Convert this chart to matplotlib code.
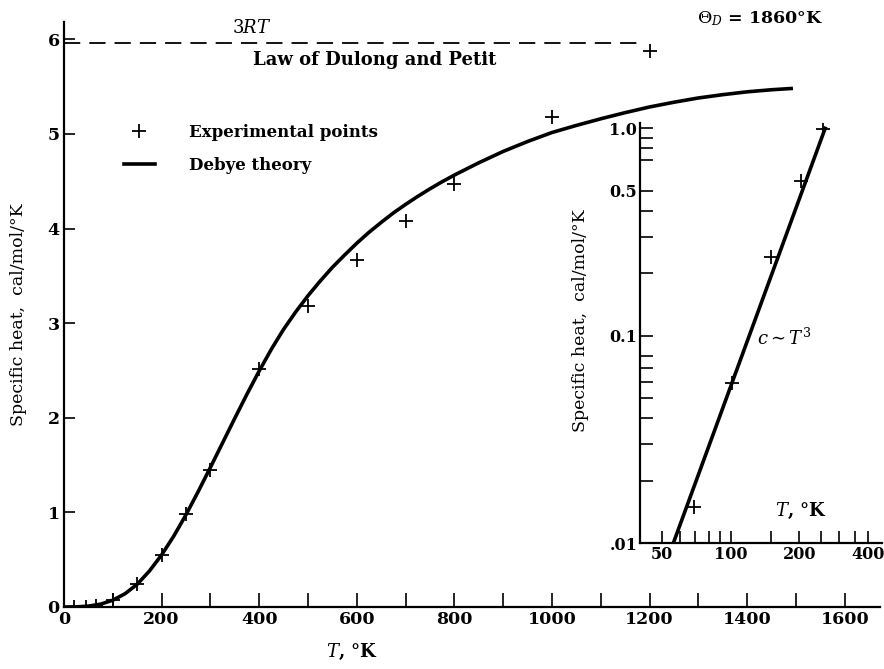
import numpy as np
import matplotlib
matplotlib.use("Agg")
import matplotlib.pyplot as plt
from matplotlib.ticker import FixedLocator, NullFormatter

plt.rcParams['font.family'] = ['DejaVu Serif']
plt.rcParams['mathtext.fontset'] = 'dejavuserif'

# experimental points (T in K, c in cal/mol/K)
exp_T = [20, 45, 65, 100, 150, 200, 250, 300, 400, 500, 600, 700, 800, 1000, 1200]
exp_c = [0.0, 0.0, 0.01, 0.07, 0.24, 0.55, 0.98, 1.45, 2.52, 3.18, 3.67, 4.08, 4.47, 5.18, 5.88]

# Debye curve
debye_T = [0, 25, 50, 75, 100, 125, 150, 175, 200, 225, 250, 275, 300, 325, 350, 375,
           400, 425, 450, 475, 500, 525, 550, 575, 600, 625, 650, 675, 700, 725, 750,
           775, 800, 850, 900, 950, 1000, 1050, 1100, 1150, 1200, 1250, 1300, 1350,
           1400, 1450, 1490]
debye_c = [0.0, 0.001, 0.009, 0.03, 0.072, 0.14, 0.24, 0.38, 0.55, 0.75, 0.975, 1.22,
           1.475, 1.735, 1.995, 2.25, 2.495, 2.725, 2.935, 3.12, 3.29, 3.445, 3.59,
           3.72, 3.845, 3.96, 4.065, 4.165, 4.255, 4.34, 4.42, 4.495, 4.565, 4.695,
           4.815, 4.92, 5.015, 5.09, 5.16, 5.225, 5.285, 5.335, 5.38, 5.415, 5.445,
           5.467, 5.48]

dulong_petit = 5.96
dulong_T = [0, 1180]

# inset (log-log, low temperature)
ins_T = [69, 101, 150, 204, 255]
ins_c = [0.015, 0.059, 0.24, 0.56, 0.99]
t3_T = [56, 260]
t3_c = [0.01, 1.0]

fig = plt.figure(figsize=(8.84, 6.69), dpi=100)
ax = fig.add_axes([0.0724, 0.0927, 0.923, 0.874])

ax.plot(exp_T, exp_c, '+', color='black', ms=10, mew=1.3, label='Experimental points')
ax.plot(debye_T, debye_c, '-', color='black', lw=2.6, solid_joinstyle='round',
        label='Debye theory')
ax.plot(dulong_T, [dulong_petit] * 2, color='black', lw=1.3, dashes=(9, 5))

ax.set_xlim(0, 1672)
ax.set_ylim(0, 6.18)
for s in ['top', 'right']:
    ax.spines[s].set_visible(False)
for s in ['left', 'bottom']:
    ax.spines[s].set_linewidth(1.6)

ax.set_xticks(range(0, 1601, 200))
ax.set_xticks(range(100, 1700, 200), minor=True)
ax.set_yticks(range(0, 7))
ax.tick_params(axis='both', which='both', direction='in', width=1.2, labelsize=12.5)
ax.tick_params(axis='x', which='both', length=10, pad=3)
ax.tick_params(axis='y', length=8, pad=3)
for lab in ax.get_xticklabels() + ax.get_yticklabels():
    lab.set_fontweight('bold')

ax.set_xlabel(r'$T$, °K', fontsize=13, fontweight='bold')
ax.xaxis.set_label_coords(0.353, -0.06)
ax.set_ylabel('Specific heat,  cal/mol/°K', fontsize=12.5)
ax.yaxis.set_label_coords(-0.045, 0.5)

ax.text(385, 6.12, r'$3RT$', fontsize=13, ha='center', va='center')
ax.text(637, 5.78, 'Law of Dulong and Petit', fontsize=13, fontweight='bold',
        ha='center', va='center')
ax.text(1426, 6.22, r'$\Theta_D$ = 1860°K', fontsize=12.5, fontweight='bold',
        ha='center', va='center')

ax.legend(frameon=False, loc='upper left', bbox_to_anchor=(0.073, 0.826),
          borderpad=0, borderaxespad=0, handlelength=1.9, handletextpad=2.0,
          labelspacing=0.95, prop={'size': 12, 'weight': 'bold'})

# inset
ins = fig.add_axes([0.724, 0.188, 0.274, 0.628])
ins.set_xscale('log')
ins.set_yscale('log')
ins.plot(ins_T, ins_c, '+', color='black', ms=10, mew=1.3)
ins.plot(t3_T, t3_c, '-', color='black', lw=2.6)
ins.set_xlim(40, 463)
ins.set_ylim(0.01, 1.06)
for s in ['top', 'right']:
    ins.spines[s].set_visible(False)
for s in ['left', 'bottom']:
    ins.spines[s].set_linewidth(1.6)

ins.xaxis.set_major_locator(FixedLocator([50, 100, 200, 400]))
ins.xaxis.set_minor_locator(FixedLocator([60, 70, 80, 90, 150, 250, 300, 350]))
ins.set_xticklabels(['50', '100', '200', '400'])
ins.xaxis.set_minor_formatter(NullFormatter())
ins.yaxis.set_major_locator(FixedLocator([0.01, 0.1, 0.5, 1.0]))
ins.yaxis.set_minor_locator(FixedLocator([0.02, 0.03, 0.04, 0.05, 0.06, 0.07, 0.08,
                                          0.2, 0.3, 0.4, 0.7, 0.8, 0.9]))
ins.set_yticklabels(['.01', '0.1', '0.5', '1.0'])
ins.yaxis.set_minor_formatter(NullFormatter())
ins.tick_params(axis='both', which='both', direction='in', width=1.2, labelsize=11.5)
ins.tick_params(axis='both', which='both', length=9, pad=2)
for lab in ins.get_xticklabels() + ins.get_yticklabels():
    lab.set_fontweight('bold')

ins.set_ylabel('Specific heat,  cal/mol/°K', fontsize=12.5)
ins.yaxis.set_label_coords(-0.21, 0.53)
ins.text(130, 0.097, r'$c \sim T^3$', fontsize=13, ha='left', va='center')
ins.text(157, 0.0135, r'$T$, °K', fontsize=13, fontweight='bold', ha='left', va='baseline')

fig.savefig('out.png', dpi=100)
